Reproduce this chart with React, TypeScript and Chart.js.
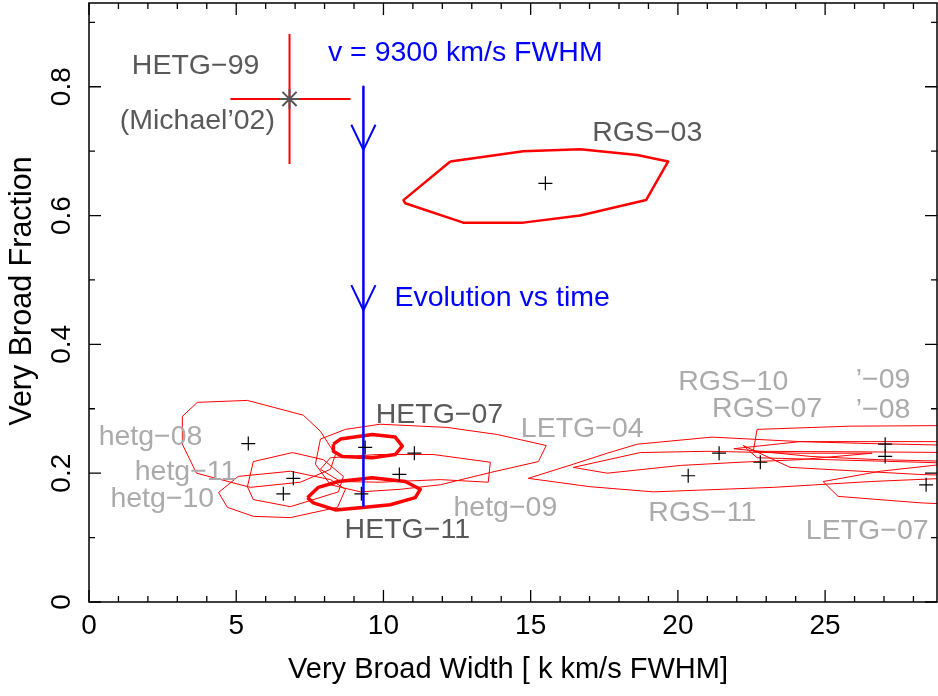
import React, { useEffect, useRef } from 'react';
import { Chart, registerables } from 'chart.js';
Chart.register(...registerables);

// ---- axes ----
const X_MIN = 0;
const X_MAX = 28.8;
const Y_MIN = 0;
const Y_MAX = 0.93;
const xTickLabels = ['0', '5', '10', '15', '20', '25'];
const yTickLabels = ['0', '0.2', '0.4', '0.6', '0.8'];
const xMinorStep = 1;
const yMinorStep = 0.1;
const xTitle = 'Very Broad Width [ k km/s FWHM]';
const yTitle = 'Very Broad Fraction';

// ---- best-fit points (crosses) ----
const crossX = [15.5, 5.41, 6.94, 6.6, 9.38, 9.25, 11.05, 10.54, 20.35, 21.4, 22.8, 27.04, 27.04, 28.43];
const crossY = [0.65, 0.246, 0.192, 0.168, 0.24, 0.168, 0.231, 0.198, 0.196, 0.231, 0.217, 0.245, 0.226, 0.182];

// ---- HETG-99 (Michael'02) point with error bars ----
const hetg99X = 6.81;
const hetg99Y = 0.781;
const hetg99XErr = [4.8, 8.88];
const hetg99YErr = [0.68, 0.882];

// ---- evolution arrow ----
const arrowX = 9.32;
const arrowY = [0.8, 0.149];
const arrowHead1 = [[8.91, 0.741], [9.32, 0.702], [9.73, 0.741]];
const arrowHead2 = [[8.91, 0.492], [9.32, 0.453], [9.73, 0.492]];

// ---- confidence contours ----
const contourRGS03 = [[12.27, 0.684], [14.75, 0.7], [16.68, 0.703], [18.62, 0.694], [19.67, 0.684], [18.92, 0.624], [16.68, 0.6], [14.75, 0.589], [12.71, 0.589], [10.74, 0.619], [10.68, 0.624], [12.27, 0.684]];
const contourHETG07 = [[8.3, 0.245], [8.54, 0.253], [9.62, 0.26], [10.4, 0.256], [10.64, 0.242], [10.4, 0.229], [9.62, 0.224], [8.6, 0.226], [8.3, 0.234], [8.3, 0.245]];
const contourHETG11 = [[7.42, 0.162], [7.79, 0.178], [8.47, 0.187], [9.62, 0.193], [10.74, 0.187], [11.25, 0.175], [11.08, 0.162], [10.23, 0.151], [9.38, 0.147], [8.37, 0.143], [7.62, 0.154], [7.42, 0.162]];
const contourHetg08 = [[3.68, 0.31], [5.38, 0.313], [7.28, 0.29], [7.86, 0.265], [8.37, 0.229], [8.2, 0.206], [7.18, 0.186], [5.48, 0.178], [3.65, 0.2], [3.17, 0.245], [3.17, 0.288], [3.68, 0.31]];
const contourHetg11 = [[5.58, 0.218], [6.91, 0.232], [7.96, 0.221], [8.64, 0.195], [8.47, 0.171], [6.84, 0.148], [5.58, 0.159], [5.38, 0.179], [5.58, 0.218]];
const contourHetg10 = [[4.4, 0.17], [5.07, 0.195], [6.84, 0.203], [8.2, 0.19], [8.71, 0.175], [8.44, 0.147], [6.84, 0.131], [5.58, 0.133], [4.7, 0.147], [4.4, 0.17]];
const contourHetg09 = [[8.2, 0.224], [9.79, 0.229], [11.69, 0.229], [13.63, 0.217], [13.56, 0.186], [11.93, 0.19], [9.89, 0.186], [8.54, 0.187], [7.86, 0.206], [8.2, 0.224]];
const contourLETG04 = [[7.86, 0.253], [8.71, 0.268], [9.89, 0.276], [12.17, 0.271], [13.87, 0.26], [15.53, 0.243], [15.26, 0.218], [13.63, 0.201], [11.93, 0.182], [10.57, 0.175], [9.22, 0.171], [8.2, 0.182], [7.69, 0.214], [7.86, 0.253]];
const contourRGS11 = [[14.92, 0.192], [16.45, 0.214], [17.6, 0.231], [18.62, 0.245], [21.16, 0.256], [24.15, 0.249], [26.53, 0.246], [29.58, 0.243], [29.58, 0.193], [26.53, 0.187], [23.24, 0.178], [19.17, 0.171], [17.02, 0.179], [14.92, 0.192]];
const contourRGS10 = [[16.45, 0.209], [18.72, 0.232], [20.99, 0.234], [24.15, 0.231], [26.6, 0.231], [24.15, 0.221], [22.11, 0.217], [20.08, 0.212], [17.6, 0.2], [16.45, 0.209]];
const contourRGS07 = [[22.22, 0.243], [23.81, 0.209], [28.22, 0.198], [29.58, 0.196], [29.58, 0.215], [28.22, 0.217], [22.69, 0.224], [22.22, 0.243]];
const contour09 = [[22.56, 0.234], [22.69, 0.268], [25.85, 0.273], [29.58, 0.274], [29.58, 0.232], [26.6, 0.233], [22.56, 0.234]];
const contour08 = [[21.9, 0.238], [24.15, 0.249], [28.22, 0.249], [29.58, 0.249], [29.58, 0.218], [26.8, 0.221], [24.5, 0.226], [21.9, 0.238]];
const contourLETG07 = [[24.93, 0.187], [26.87, 0.203], [28.66, 0.212], [29.58, 0.217], [29.58, 0.151], [28.22, 0.154], [25.44, 0.164], [24.93, 0.187]];

const thickContours = [contourHETG07, contourHETG11];
const mediumContours = [contourRGS03];
const thinContours = [contourHetg08, contourHetg11, contourHetg10, contourHetg09, contourLETG04, contourRGS11, contourRGS10, contourRGS07, contour09, contour08, contourLETG07];

// ---- annotations ----
const labelTexts = ['HETG\u221299', '(Michael\u201902)', 'v = 9300 km/s FWHM', 'RGS\u221203', 'Evolution vs time', 'HETG\u221207', 'LETG\u221204', 'hetg\u221208', 'hetg\u221211', 'hetg\u221210', 'HETG\u221211', 'hetg\u221209', 'RGS\u221210', 'RGS\u221207', '\u2019\u221209', '\u2019\u221208', 'RGS\u221211', 'LETG\u221207'];
const labelX = [3.62, 3.68, 12.78, 18.96, 14.03, 11.9, 16.75, 2.09, 3.28, 2.49, 10.81, 14.14, 21.88, 23.03, 26.97, 26.97, 20.83, 26.43];
const labelY = [0.837, 0.751, 0.857, 0.733, 0.477, 0.295, 0.273, 0.26, 0.206, 0.164, 0.117, 0.151, 0.346, 0.304, 0.349, 0.302, 0.143, 0.115];
const labelTone = ['dark', 'dark', 'blue', 'dark', 'blue', 'dark', 'light', 'light', 'light', 'light', 'dark', 'light', 'light', 'light', 'light', 'light', 'light', 'light'];

const TONE: Record<string, string> = { dark: '#595959', light: '#ababab', blue: '#0000ff' };
const FONT = '"Liberation Sans", Arial, Helvetica, sans-serif';

const toPts = (arr: number[][]) => arr.map(([x, y]) => ({ x, y }));

const framePlugin = {
  id: 'frame',
  afterDatasetsDraw(chart: any) {
    const { ctx, scales } = chart;
    const xs = scales.x;
    const ys = scales.y;
    ctx.save();
    ctx.font = `28.5px ${FONT}`;
    ctx.textAlign = 'center';
    ctx.textBaseline = 'middle';
    labelTexts.forEach((t, i) => {
      ctx.fillStyle = TONE[labelTone[i]];
      ctx.fillText(t, xs.getPixelForValue(labelX[i]), ys.getPixelForValue(labelY[i]) + 3);
    });
    ctx.restore();
  },
  afterDraw(chart: any) {
    const { ctx, chartArea: a, scales } = chart;
    const xs = scales.x;
    const ys = scales.y;
    ctx.save();
    ctx.strokeStyle = '#000';
    ctx.lineWidth = 1.5;
    ctx.strokeRect(a.left, a.top, a.right - a.left, a.bottom - a.top);
    ctx.lineWidth = 1.3;
    ctx.beginPath();
    const nx = Math.round((X_MAX - X_MIN) / xMinorStep - 0.5);
    for (let i = 0; i <= nx; i++) {
      const v = X_MIN + i * xMinorStep;
      const px = xs.getPixelForValue(v);
      const major = i % 5 === 0;
      const len = major ? 12 : 6;
      ctx.moveTo(px, a.bottom);
      ctx.lineTo(px, a.bottom - len);
      ctx.moveTo(px, a.top);
      ctx.lineTo(px, a.top + len);
    }
    const ny = Math.floor((Y_MAX - Y_MIN) / yMinorStep + 1e-6);
    for (let i = 0; i <= ny; i++) {
      const v = Y_MIN + i * yMinorStep;
      const py = ys.getPixelForValue(v);
      const major = i % 2 === 0;
      const len = major ? 12 : 6;
      ctx.moveTo(a.left, py);
      ctx.lineTo(a.left + len, py);
      ctx.moveTo(a.right, py);
      ctx.lineTo(a.right - len, py);
    }
    ctx.stroke();

    ctx.fillStyle = '#000';
    ctx.font = `28px ${FONT}`;
    ctx.textAlign = 'center';
    ctx.textBaseline = 'middle';
    xTickLabels.forEach((t) => {
      ctx.fillText(t, xs.getPixelForValue(Number(t)), a.bottom + 24);
    });
    yTickLabels.forEach((t) => {
      const py = ys.getPixelForValue(Number(t));
      ctx.save();
      ctx.translate(a.left - 27, py);
      ctx.rotate(-Math.PI / 2);
      ctx.fillText(t, 0, 0);
      ctx.restore();
    });
    ctx.font = `29px ${FONT}`;
    ctx.fillText(xTitle, (a.left + a.right) / 2 - 5, a.bottom + 68);
    ctx.save();
    ctx.font = `30.5px ${FONT}`;
    ctx.translate(23, 291);
    ctx.rotate(-Math.PI / 2);
    ctx.fillText(yTitle, 0, 0);
    ctx.restore();
    ctx.restore();
  },
};

export default function App() {
  const ref = useRef<HTMLCanvasElement | null>(null);
  useEffect(() => {
    if (!ref.current) return;
    const lineDs = (pts: number[][], color: string, width: number, order: number) => ({
      type: 'scatter' as const,
      data: toPts(pts),
      showLine: true,
      borderColor: color,
      borderWidth: width,
      pointRadius: 0,
      fill: false,
      tension: 0,
      clip: 0,
      order,
      borderJoinStyle: 'round' as const,
    });
    const datasets: any[] = [
      {
        data: crossX.map((x, i) => ({ x, y: crossY[i] })),
        showLine: false,
        pointStyle: 'cross',
        pointRadius: 7,
        pointBorderColor: '#000',
        pointBorderWidth: 1.2,
        pointBackgroundColor: '#000',
        order: 0,
      },
      {
        data: [{ x: hetg99X, y: hetg99Y }],
        showLine: false,
        pointStyle: 'star',
        pointRadius: 10,
        pointBorderColor: '#555',
        pointBorderWidth: 2,
        order: 0,
      },
      lineDs([[hetg99XErr[0], hetg99Y], [hetg99XErr[1], hetg99Y]], '#ff0000', 2, 1),
      lineDs([[hetg99X, hetg99YErr[0]], [hetg99X, hetg99YErr[1]]], '#ff0000', 2, 1),
      lineDs([[arrowX, arrowY[0]], [arrowX, arrowY[1]]], '#0000ff', 2.5, 1),
      lineDs(arrowHead1, '#0000ff', 2, 1),
      lineDs(arrowHead2, '#0000ff', 2, 1),
      ...thickContours.map((c) => lineDs(c, '#ff0000', 3.5, 2)),
      ...mediumContours.map((c) => lineDs(c, '#ff0000', 2.5, 2)),
      ...thinContours.map((c) => lineDs(c, '#ff0000', 1, 3)),
    ];
    const chart = new Chart(ref.current, {
      type: 'scatter',
      data: { datasets },
      options: {
        animation: false,
        responsive: false,
        maintainAspectRatio: false,
        layout: { autoPadding: false, padding: { left: 89, right: 1, top: 3, bottom: 94 } },
        scales: {
          x: { type: 'linear', min: X_MIN, max: X_MAX, display: false },
          y: { type: 'linear', min: Y_MIN, max: Y_MAX, display: false },
        },
        plugins: { legend: { display: false }, tooltip: { enabled: false } },
      },
      plugins: [framePlugin],
    });
    return () => chart.destroy();
  }, []);
  return (
    <div style={{ position: 'fixed', left: 0, top: 0, width: 938, height: 696, background: '#fff' }}>
      <canvas ref={ref} width={938} height={696} style={{ display: 'block' }} />
    </div>
  );
}
